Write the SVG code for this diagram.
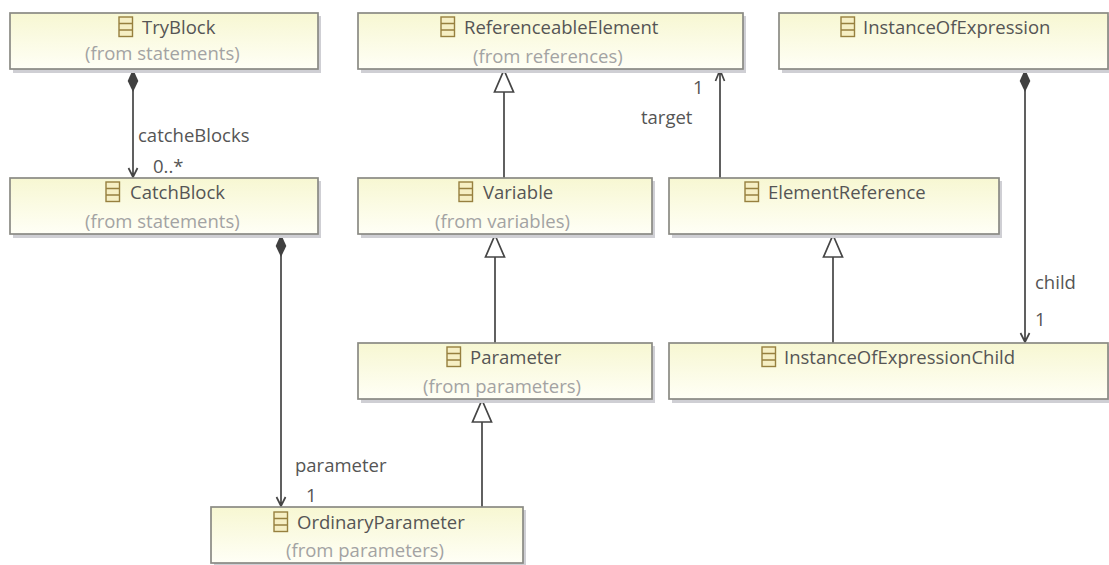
<svg xmlns="http://www.w3.org/2000/svg" width="1109" height="565" viewBox="0 0 1109 565">
<style>
text{font-family:"Open Sans",sans-serif;font-size:18.500px;fill:#555}
.f{fill:#a3a3a3}
.box{fill:url(#g);stroke:#8a8a84;stroke-width:1.700}
.sh{fill:#cfcfd4}
.ic{fill:#f6efc4;stroke:#97803f;stroke-width:1.400}
.c{fill:none;stroke:#454545;stroke-width:1.700}
.d{fill:#404040;stroke:none}
.t{fill:#fff;stroke:#454545;stroke-width:1.700}
</style>
<defs>
<linearGradient id="g" x1="0" y1="0" x2="0" y2="1"><stop offset="0" stop-color="#f7f7d2"/><stop offset="1" stop-color="#fffff6"/></linearGradient>
<g id="i"><rect class="ic" x="0" y="0" width="13.500" height="19.500"/><path class="ic" d="M0 6.500H13.500M0 13H13.500"/></g>
</defs>
<g id="connectors">
<path class="c" d="M133 69V177M128.500 168L133 177L137.500 168"/><path class="d" d="M133 69L138.300 81L133 92L127.700 81Z"/>
<path class="c" d="M281 234V506M276.500 497L281 506L285.500 497"/><path class="d" d="M281 234L286.300 246L281 257L275.700 246Z"/>
<path class="c" d="M504 92V178"/><path class="t" d="M504 70L513.500 92H494.500Z"/>
<path class="c" d="M495 257V343"/><path class="t" d="M495 235L504.500 257H485.500Z"/>
<path class="c" d="M482 422V507"/><path class="t" d="M482 400L491.500 422H472.500Z"/>
<path class="c" d="M720 178V70M715.500 81L720 70L724.500 81"/>
<path class="c" d="M1025 69V342M1020.500 333L1025 342L1029.500 333"/><path class="d" d="M1025 69L1030.300 81L1025 92L1019.700 81Z"/>
<path class="c" d="M833 257V343"/><path class="t" d="M833 235L842.500 257H823.500Z"/>
</g>
<g id="labels">
<text x="138" y="142">catcheBlocks</text><text x="153" y="173">0..*</text>
<text x="295" y="472">parameter</text><text x="306" y="502">1</text>
<text x="641" y="124">target</text><text x="693" y="94">1</text>
<text x="1035" y="289">child</text><text x="1035" y="326">1</text>
</g>
<g id="TryBlock"><rect class="sh" x="13" y="16" width="308" height="57"/><rect class="box" x="10" y="13" width="308" height="56"/><use href="#i" x="119" y="17"/><text x="142" y="34">TryBlock</text><text class="f" x="85" y="60">(from statements)</text></g>
<g id="CatchBlock"><rect class="sh" x="13" y="181" width="308" height="57"/><rect class="box" x="10" y="178" width="308" height="56"/><use href="#i" x="106" y="182"/><text x="130" y="199">CatchBlock</text><text class="f" x="85" y="228">(from statements)</text></g>
<g id="ReferenceableElement"><rect class="sh" x="361" y="16" width="385" height="57"/><rect class="box" x="358" y="13" width="385" height="56"/><use href="#i" x="441" y="17"/><text x="464" y="34">ReferenceableElement</text><text class="f" x="473" y="63">(from references)</text></g>
<g id="InstanceOfExpression"><rect class="sh" x="782" y="16" width="329" height="57"/><rect class="box" x="779" y="13" width="329" height="56"/><use href="#i" x="841" y="17"/><text x="863" y="34">InstanceOfExpression</text></g>
<g id="Variable"><rect class="sh" x="361" y="181" width="294" height="57"/><rect class="box" x="358" y="178" width="294" height="56"/><use href="#i" x="459" y="182"/><text x="483" y="199">Variable</text><text class="f" x="435" y="228">(from variables)</text></g>
<g id="ElementReference"><rect class="sh" x="672" y="181" width="330" height="57"/><rect class="box" x="669" y="178" width="330" height="56"/><use href="#i" x="745" y="182"/><text x="768" y="199">ElementReference</text></g>
<g id="Parameter"><rect class="sh" x="361" y="346" width="294" height="57"/><rect class="box" x="358" y="343" width="294" height="56"/><use href="#i" x="447" y="347"/><text x="470" y="364">Parameter</text><text class="f" x="423" y="393">(from parameters)</text></g>
<g id="InstanceOfExpressionChild"><rect class="sh" x="672" y="346" width="439" height="57"/><rect class="box" x="669" y="343" width="439" height="56"/><use href="#i" x="762" y="347"/><text x="784" y="364">InstanceOfExpressionChild</text></g>
<g id="OrdinaryParameter"><rect class="sh" x="214" y="510" width="312" height="57"/><rect class="box" x="211" y="507" width="312" height="56"/><use href="#i" x="274" y="512"/><text x="297" y="529">OrdinaryParameter</text><text class="f" x="286" y="557">(from parameters)</text></g>
</svg>
